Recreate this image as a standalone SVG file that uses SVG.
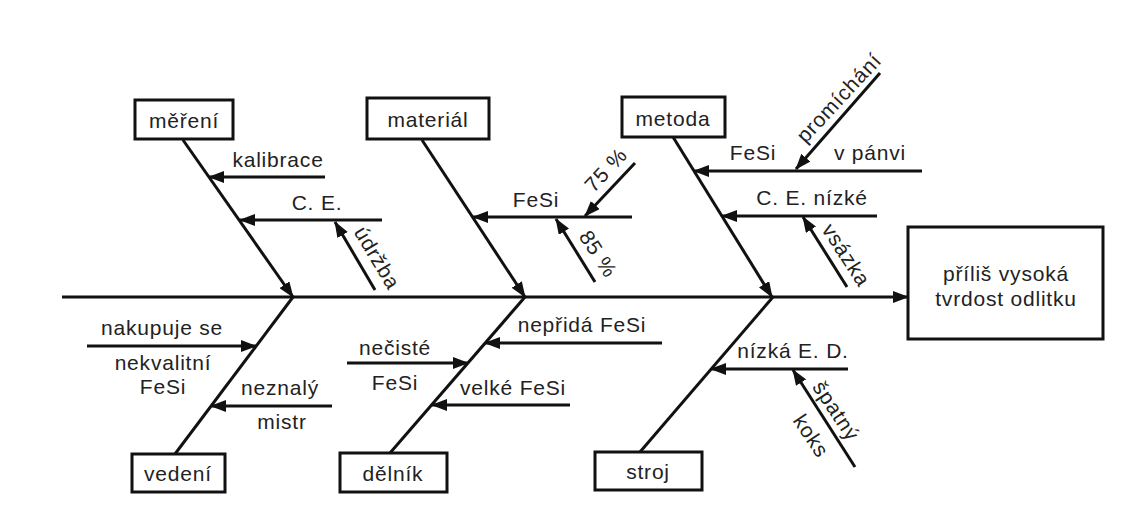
<svg xmlns="http://www.w3.org/2000/svg" width="1146" height="526" viewBox="0 0 1146 526">
<style>
  .ln{stroke:#111;stroke-width:3;fill:none}
  .ar{stroke:#111;stroke-width:3;fill:none;marker-end:url(#ah)}
  .bx{stroke:#111;stroke-width:3;fill:#fff}
  text{font-family:"Liberation Sans",Arial,sans-serif;font-size:21px;letter-spacing:0.8px;fill:#222}
  .m{text-anchor:middle}
</style>
<defs>
  <marker id="ah" viewBox="0 0 16 12" refX="15" refY="6" markerWidth="16" markerHeight="12" markerUnits="userSpaceOnUse" orient="auto">
    <path d="M0,0 L16,6 L0,12 z" fill="#111"/>
  </marker>
</defs>
<rect width="1146" height="526" fill="#fff"/>

<g id="connectors">
  <!-- spine -->
  <line class="ar" x1="62" y1="297" x2="908" y2="297"/>
  <!-- main bones top -->
  <line class="ar" x1="183" y1="140" x2="293" y2="297"/>
  <line class="ar" x1="422" y1="140" x2="525" y2="297"/>
  <line class="ar" x1="673" y1="137" x2="772" y2="297"/>
  <!-- main bones bottom -->
  <line class="ln" x1="175" y1="454" x2="293" y2="297"/>
  <line class="ln" x1="390" y1="453" x2="525" y2="297"/>
  <line class="ln" x1="640" y1="452" x2="773" y2="297"/>
  <!-- měření -->
  <line class="ar" x1="325" y1="177" x2="209" y2="177"/>
  <line class="ar" x1="382" y1="220" x2="240" y2="220"/>
  <line class="ar" x1="375" y1="290" x2="335" y2="222"/>
  <!-- materiál -->
  <line class="ar" x1="632" y1="217" x2="473" y2="217"/>
  <line class="ar" x1="635" y1="163" x2="585" y2="216"/>
  <line class="ar" x1="595" y1="282" x2="556" y2="219"/>
  <!-- metoda -->
  <line class="ar" x1="922" y1="171" x2="694" y2="171"/>
  <line class="ar" x1="880" y1="73" x2="796" y2="169"/>
  <line class="ar" x1="877" y1="216" x2="722" y2="216"/>
  <line class="ar" x1="847" y1="287" x2="803" y2="217"/>
  <!-- vedení -->
  <line class="ar" x1="87" y1="346" x2="256" y2="346"/>
  <line class="ar" x1="332" y1="406" x2="211" y2="406"/>
  <!-- dělník -->
  <line class="ar" x1="662" y1="343" x2="485" y2="343"/>
  <line class="ar" x1="347" y1="363" x2="468" y2="363"/>
  <line class="ar" x1="570" y1="405" x2="432" y2="405"/>
  <!-- stroj -->
  <line class="ar" x1="848" y1="369" x2="711" y2="369"/>
  <line class="ar" x1="855" y1="467" x2="793" y2="370"/>
</g>

<g id="mereni">
  <rect class="bx" x="135" y="100" width="98" height="39"/>
  <text class="m" x="184" y="128">měření</text>
</g>
<g id="material">
  <rect class="bx" x="367" y="98" width="122" height="41"/>
  <text class="m" x="428" y="127">materiál</text>
</g>
<g id="metoda">
  <rect class="bx" x="622" y="97" width="103" height="40"/>
  <text class="m" x="673" y="126">metoda</text>
</g>
<g id="vedeni">
  <rect class="bx" x="132" y="454" width="93" height="38"/>
  <text class="m" x="178" y="481">vedení</text>
</g>
<g id="delnik">
  <rect class="bx" x="340" y="453" width="107" height="39"/>
  <text class="m" x="393" y="481">dělník</text>
</g>
<g id="stroj">
  <rect class="bx" x="595" y="452" width="107" height="38"/>
  <text class="m" x="648" y="479">stroj</text>
</g>
<g id="effect">
  <rect class="bx" x="908" y="227" width="195" height="112"/>
  <text class="m" x="1006" y="281">příliš vysoká</text>
  <text class="m" x="1006" y="306">tvrdost odlitku</text>
</g>

<g id="labels">
  <text class="m" x="278" y="167">kalibrace</text>
  <text class="m" x="317" y="210">C. E.</text>
  <text class="m" transform="translate(377,258) rotate(59)" x="0" y="7">údržba</text>

  <text class="m" x="536" y="207">FeSi</text>
  <text class="m" transform="translate(606,170) rotate(-47)" x="0" y="7">75 %</text>
  <text class="m" transform="translate(598,254) rotate(57)" x="0" y="7">85 %</text>

  <text class="m" x="753" y="160">FeSi</text>
  <text class="m" x="870" y="160">v pánvi</text>
  <text class="m" transform="translate(839,98) rotate(-47)" x="0" y="7">promíchání</text>
  <text class="m" x="812" y="205">C. E. nízké</text>
  <text class="m" transform="translate(846,255) rotate(57)" x="0" y="7">vsázka</text>

  <text class="m" x="162" y="335">nakupuje se</text>
  <text class="m" x="163" y="370">nekvalitní</text>
  <text class="m" x="163" y="394">FeSi</text>
  <text class="m" x="280" y="395">neznalý</text>
  <text class="m" x="282" y="429">mistr</text>

  <text class="m" x="582" y="332">nepřidá FeSi</text>
  <text class="m" x="395" y="355">nečisté</text>
  <text class="m" x="395" y="390">FeSi</text>
  <text class="m" x="513" y="395">velké FeSi</text>

  <text class="m" x="793" y="358">nízká E. D.</text>
  <text class="m" transform="translate(836,411) rotate(56.5)" x="0" y="7">špatný</text>
  <text class="m" transform="translate(811,436) rotate(56.5)" x="0" y="7">koks</text>
</g>
</svg>
